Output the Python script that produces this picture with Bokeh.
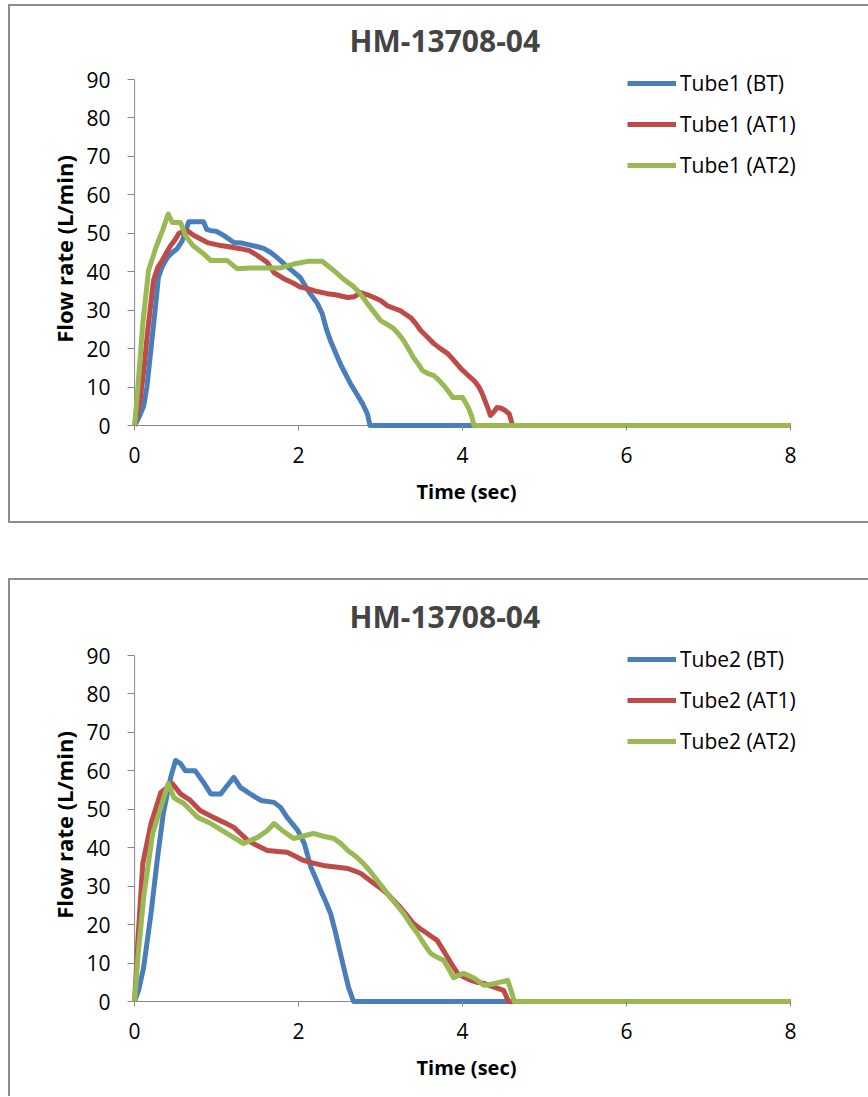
from bokeh.plotting import figure
from bokeh.models import Range1d, FixedTicker
from bokeh.layouts import column
from bokeh.embed import file_html
from bokeh.resources import INLINE

# ---------------- data ----------------
title_text = "HM-13708-04"
x_ticks = [0, 2, 4, 6, 8]
y_ticks = [0, 10, 20, 30, 40, 50, 60, 70, 80, 90]
x_label = "Time (sec)"
y_label = "Flow rate (L/min)"

names1 = ["Tube1 (BT)", "Tube1 (AT1)", "Tube1 (AT2)"]
names2 = ["Tube2 (BT)", "Tube2 (AT1)", "Tube2 (AT2)"]
colors = ["#4A7EBB", "#BE4B48", "#98B954"]

t1_bt = [0, 0.05, 0.11, 0.15, 0.2, 0.25, 0.29, 0.34, 0.4, 0.46, 0.52, 0.58, 0.63, 0.66, 0.75, 0.84, 0.88, 0.93, 1.0, 1.09,
         1.15, 1.21, 1.3, 1.4, 1.5, 1.58, 1.66, 1.72, 1.78, 1.85, 1.92, 2.02, 2.12, 2.23, 2.29, 2.34, 2.39, 2.45, 2.51, 2.57,
         2.63, 2.7, 2.78, 2.84, 2.87, 8.0]
v1_bt = [0, 2, 5, 10, 20, 30, 38.5, 41.5, 43.7, 45, 46, 48, 51, 53, 53, 53, 51, 50.7, 50.5, 49.4,
         48.5, 47.6, 47.5, 47, 46.5, 46, 45, 44, 42.9, 41.5, 40.3, 38.5, 35, 31.7, 29, 25, 22, 19, 16, 13.5,
         11, 8.5, 5.7, 3, 0, 0]

t1_at1 = [0, 0.07, 0.12, 0.16, 0.23, 0.28, 0.34, 0.39, 0.44, 0.5, 0.54, 0.6, 0.64, 0.72, 0.8, 0.9, 1.05, 1.15, 1.29, 1.4,
          1.5, 1.62, 1.7, 1.82, 1.94, 2.02, 2.11, 2.2, 2.35, 2.45, 2.6, 2.68, 2.76, 2.84, 2.92, 3.0, 3.08, 3.16, 3.24, 3.3,
          3.37, 3.43, 3.49, 3.57, 3.65, 3.73, 3.82, 3.9, 3.98, 4.06, 4.14, 4.2, 4.24, 4.3, 4.34, 4.38, 4.42, 4.47, 4.52, 4.57,
          4.61, 8.0]
v1_at1 = [0, 7, 16, 24.7, 37.7, 41, 43, 45, 46.8, 48.5, 50, 50.5, 50.7, 49.5, 48.6, 47.5, 46.8, 46.5, 46, 45.5,
          44.2, 42.4, 39.8, 38.2, 37, 36, 35.6, 35, 34.3, 34, 33.3, 33.5, 34.6, 34, 33.3, 32.5, 31.2, 30.5, 29.9, 29,
          28, 26.5, 24.7, 23, 21.3, 20, 18.7, 16.8, 14.8, 13.2, 11.7, 10, 8.3, 5, 2.6, 3.5, 4.7, 4.5, 3.9, 3,
          0, 0]

t1_at2 = [0, 0.04, 0.1, 0.17, 0.26, 0.34, 0.41, 0.46, 0.56, 0.62, 0.71, 0.84, 0.93, 1.13, 1.25, 1.41, 1.57, 1.78, 1.94, 2.11,
          2.29, 2.36, 2.43, 2.5, 2.57, 2.65, 2.72, 2.78, 2.84, 2.92, 3.0, 3.08, 3.16, 3.22, 3.28, 3.34, 3.4, 3.46, 3.51, 3.58,
          3.65, 3.71, 3.77, 3.83, 3.88, 3.94, 4.0, 4.07, 4.11, 4.14, 8.0]
v1_at2 = [0, 10, 26.5, 40.3, 46.3, 50.7, 55, 52.8, 52.8, 49.4, 46.8, 44.7, 42.9, 42.9, 40.8, 41, 41, 41, 42, 42.7,
          42.7, 41.5, 40.3, 39, 37.7, 36.5, 35.1, 33.5, 31.7, 29.5, 27.3, 26.3, 25.2, 23.8, 22.1, 20, 17.7, 16, 14.3, 13.5,
          13, 11.8, 10.4, 8.8, 7.3, 7.3, 7.3, 4.7, 2.5, 0, 0]

t2_bt = [0, 0.05, 0.11, 0.2, 0.28, 0.35, 0.44, 0.5, 0.56, 0.62, 0.74, 0.85, 0.93, 1.05, 1.13, 1.21, 1.29, 1.41, 1.54, 1.7,
         1.78, 1.86, 1.99, 2.07, 2.15, 2.21, 2.27, 2.33, 2.39, 2.45, 2.51, 2.56, 2.61, 2.67, 8.0]
v2_bt = [0, 3, 8.8, 22.9, 37.5, 48.9, 58.3, 62.7, 61.9, 60, 60, 56.7, 54, 54, 56.2, 58.3, 55.7, 54, 52.3, 51.8,
         50.5, 47.9, 44.5, 41.1, 34.9, 32, 28.9, 26, 22.9, 18, 12.5, 8, 3.6, 0, 0]

t2_at1 = [0, 0.04, 0.1, 0.2, 0.32, 0.46, 0.56, 0.68, 0.8, 0.96, 1.1, 1.21, 1.3, 1.38, 1.5, 1.62, 1.75, 1.86, 1.96, 2.06,
          2.18, 2.3, 2.45, 2.6, 2.68, 2.76, 2.84, 2.92, 3.0, 3.08, 3.16, 3.24, 3.32, 3.4, 3.48, 3.57, 3.63, 3.69, 3.76, 3.82,
          3.88, 3.94, 4.02, 4.1, 4.18, 4.26, 4.35, 4.43, 4.5, 4.56, 8.0]
v2_at1 = [0, 15.9, 35.9, 46.3, 54.4, 56.7, 54, 52.3, 49.7, 47.9, 46.5, 45.3, 43.5, 41.9, 40.5, 39.3, 39, 38.8, 37.8, 36.7,
          36, 35.4, 35, 34.6, 34, 33.3, 32, 30.7, 29.5, 28.1, 26.3, 24.5, 22.5, 20.3, 19, 17.7, 16.8, 15.9, 13.5, 11.4,
          9.3, 7.3, 6.3, 5.5, 5, 4.7, 4, 3.4, 2.9, 0, 0]

t2_at2 = [0, 0.04, 0.11, 0.22, 0.32, 0.41, 0.48, 0.6, 0.77, 0.93, 1.13, 1.33, 1.5, 1.62, 1.7, 1.8, 1.94, 2.05, 2.18, 2.3,
          2.43, 2.52, 2.6, 2.7, 2.79, 2.88, 2.96, 3.04, 3.12, 3.2, 3.28, 3.36, 3.45, 3.53, 3.61, 3.69, 3.77, 3.83, 3.89, 3.95,
          4.01, 4.07, 4.13, 4.2, 4.26, 4.35, 4.43, 4.5, 4.55, 4.59, 4.63, 8.0]
v2_at2 = [0, 11.4, 27, 43.7, 50.5, 56.7, 53, 51.5, 47.9, 46.3, 43.7, 41.1, 42.7, 44.5, 46.3, 44.5, 42.4, 43, 43.7, 43,
          42.4, 41, 39.3, 37.7, 35.9, 33.7, 31.5, 29.3, 27, 25, 22.9, 20.3, 17.7, 15, 12.5, 11.5, 10.7, 8.5, 6.2, 6.8,
          7.3, 6.8, 6.2, 5.2, 4.2, 4.5, 4.9, 5.2, 5.5, 3, 0, 0]

AXIS = "#868686"
BORDER = "#8d8d8d"
FONT = "Open Sans"
FRAME_H = 363
Y_LO, Y_HI = -1.3, 93.13
X_LO, X_HI = -0.05, 8.146


def make_chart(names, ts, vs, height, top, shadow):
    p = figure(width=868, height=height,
               x_range=Range1d(X_LO, X_HI), y_range=Range1d(Y_LO, Y_HI),
               output_backend="svg", toolbar_location=None,
               min_border_left=130, min_border_right=66,
               min_border_top=top, min_border_bottom=height - top - FRAME_H,
               border_fill_alpha=0, outline_line_color=None,
               styles={"box-shadow": shadow})
    # axis lines: x axis along 0 from 0 to 8, y axis from 0 to 90
    p.segment(x0=[x_ticks[0], x_ticks[0]], y0=[y_ticks[0], y_ticks[0]],
              x1=[x_ticks[-1], x_ticks[0]], y1=[y_ticks[0], y_ticks[-1]],
              line_color=AXIS, line_width=1, level="underlay")

    for name, t, v, c in zip(names, ts, vs, colors):
        p.line(t, v, line_color=c, line_width=5, line_join="round", legend_label=name)

    p.grid.visible = False
    p.title.text = title_text
    p.title.text_font = FONT
    p.title.text_font_size = "30px"
    p.title.text_font_style = "bold"
    p.title.align = "left"
    p.title.offset = 219
    p.title.standoff = 14

    for ax in (p.xaxis, p.yaxis):
        ax.axis_line_color = None
        ax.major_tick_line_color = AXIS
        ax.minor_tick_line_color = None
        ax.major_label_text_font = FONT
        ax.major_label_text_font_size = "21px"
        ax.major_label_text_color = "#000000"
        ax.axis_label_text_font = FONT
        ax.axis_label_text_font_style = "bold"
        ax.axis_label_text_color = "#000000"
    p.xaxis.ticker = FixedTicker(ticks=x_ticks)
    p.yaxis.ticker = FixedTicker(ticks=y_ticks)
    p.xaxis.major_tick_in = 5
    p.xaxis.major_tick_out = 0
    p.yaxis.major_tick_in = 4
    p.yaxis.major_tick_out = 3
    p.xaxis.major_label_standoff = 16
    p.yaxis.major_label_standoff = 17
    p.xaxis.axis_label = x_label
    p.yaxis.axis_label = y_label
    p.xaxis.axis_label_text_font_size = "20px"
    p.yaxis.axis_label_text_font_size = "22px"
    p.xaxis.axis_label_standoff = 12
    p.yaxis.axis_label_standoff = 4

    lg = p.legend[0]
    lg.location = (497, 251)
    lg.label_text_font = FONT
    lg.label_text_font_size = "21px"
    lg.label_text_color = "#000000"
    lg.glyph_width = 49
    lg.glyph_height = 20
    lg.label_standoff = 4
    lg.spacing = 13
    lg.padding = 0
    lg.margin = 0
    lg.border_line_color = None
    lg.background_fill_alpha = 0
    return p


shadow1 = ("inset 0 4px 0 #ffffff, inset 8px 0 0 #ffffff, "
           f"inset 0 6px 0 {BORDER}, inset 10px 0 0 {BORDER}, inset 0 -2px 0 {BORDER}")
shadow2 = f"inset 8px 0 0 #ffffff, inset 0 2px 0 {BORDER}, inset 10px 0 0 {BORDER}"

p1 = make_chart(names1, [t1_bt, t1_at1, t1_at2], [v1_bt, v1_at1, v1_at2], 523, 67, shadow1)
p2 = make_chart(names2, [t2_bt, t2_at1, t2_at2], [v2_bt, v2_at1, v2_at2], 518, 65, shadow2)

layout = column(p1, p2, spacing=55)
open("out.html", "w").write(file_html(layout, INLINE))
